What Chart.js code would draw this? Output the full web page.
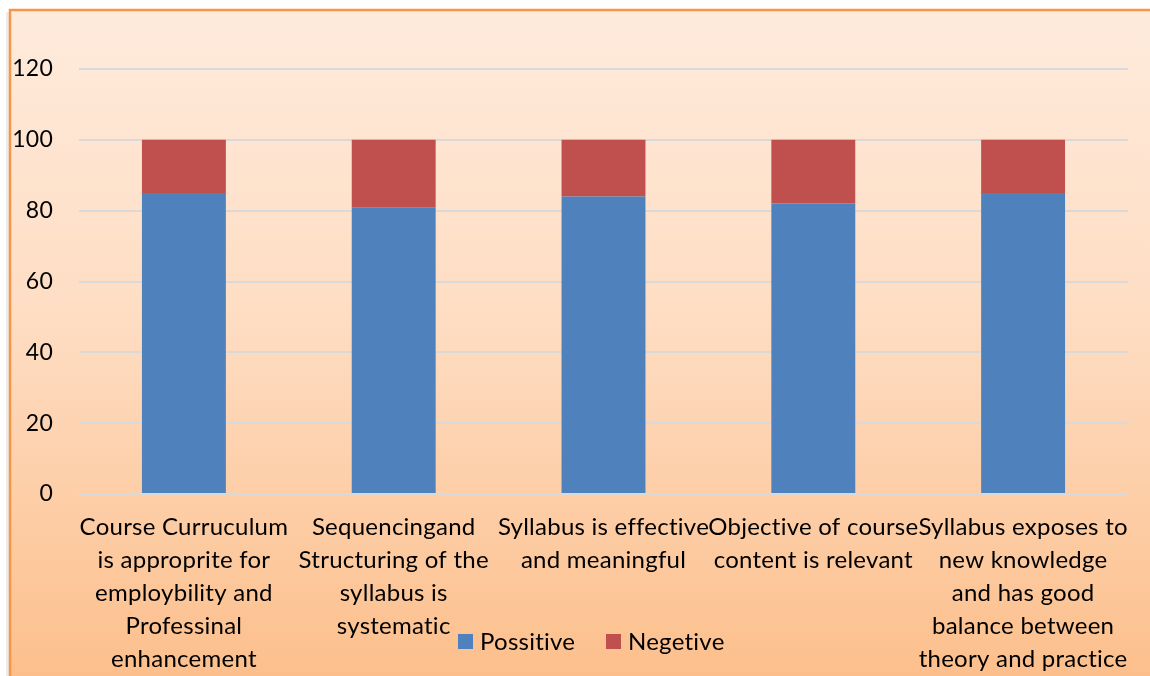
<!DOCTYPE html>
<html>
<head>
<meta charset="utf-8">
<script src="https://cdn.jsdelivr.net/npm/chart.js@4/dist/chart.umd.min.js"></script>
<style>
  html, body { margin: 0; padding: 0; background: #ffffff; }
  #wrap { position: relative; width: 1150px; height: 676px; }
</style>
</head>
<body>
<div id="wrap"><canvas id="c" width="1150" height="676"></canvas></div>
<script>
const categories = [
  ["Course Curruculum", "is approprite for", "employbility and", "Professinal", "enhancement"],
  ["Sequencingand", "Structuring of the", "syllabus is", "systematic"],
  ["Syllabus is effective", "and meaningful"],
  ["Objective of course", "content is relevant"],
  ["Syllabus exposes to", "new knowledge", "and has good", "balance between", "theory and practice"]
];
const positiveValues = [85, 81, 84, 82, 85];
const negativeValues = [15, 19, 16, 18, 15];
const seriesNames = ["Possitive", "Negetive"];
const yTicks = [0, 20, 40, 60, 80, 100, 120];

const FONT = "Lato, 'Noto Sans', sans-serif";

const bgPlugin = {
  id: 'bg',
  beforeDraw(chart) {
    const ctx = chart.ctx;
    ctx.save();
    ctx.fillStyle = 'rgba(0,0,0,0.08)';
    ctx.fillRect(6, 12, 4, 670);
    const g = ctx.createLinearGradient(0, 10, 0, 690);
    g.addColorStop(0, '#FEEBDC');
    g.addColorStop(0.45, '#FEDDC3');
    g.addColorStop(1, '#FCBE8A');
    ctx.fillStyle = g;
    ctx.fillRect(10, 10, 1150, 700);
    ctx.strokeStyle = '#F79646';
    ctx.lineWidth = 2.5;
    ctx.beginPath();
    ctx.moveTo(10, 700);
    ctx.lineTo(10, 10);
    ctx.lineTo(1160, 10);
    ctx.stroke();
    ctx.restore();
    if ('letterSpacing' in ctx) ctx.letterSpacing = '0.25px';
  }
};

const legendPlugin = {
  id: 'customLegend',
  afterDraw(chart) {
    const ctx = chart.ctx;
    ctx.save();
    ctx.font = '24px ' + FONT;
    ctx.textBaseline = 'middle';
    ctx.textAlign = 'left';
    const cy = 642;
    const starts = [458, 606];
    chart.data.datasets.forEach((ds, i) => {
      const x = starts[i];
      ctx.fillStyle = ds.backgroundColor;
      ctx.fillRect(x, cy - 8, 15, 15);
      ctx.fillStyle = '#000000';
      ctx.fillText(ds.label, x + 22, cy);
    });
    ctx.restore();
  }
};

new Chart(document.getElementById('c'), {
  type: 'bar',
  data: {
    labels: categories,
    datasets: [
      { label: seriesNames[0], data: positiveValues, backgroundColor: '#4F81BD' },
      { label: seriesNames[1], data: negativeValues, backgroundColor: '#C0504D' }
    ]
  },
  options: {
    responsive: false,
    animation: false,
    devicePixelRatio: 1,
    layout: { padding: { left: 0, right: 22, top: 69, bottom: 0 } },
    datasets: { bar: { categoryPercentage: 0.4, barPercentage: 1.0 } },
    plugins: {
      legend: { display: false },
      tooltip: { enabled: false }
    },
    scales: {
      x: {
        stacked: true,
        grid: { display: false, drawTicks: false },
        border: { display: false },
        ticks: {
          autoSkip: false, maxRotation: 0, minRotation: 0,
          color: '#000000', padding: 17,
          font: { family: FONT, size: 24, lineHeight: 1.375 }
        },
        afterFit(scale) { scale.height = 182; }
      },
      y: {
        stacked: true,
        min: 0, max: 120,
        afterBuildTicks(scale) { scale.ticks = yTicks.map(v => ({ value: v })); },
        grid: { color: '#D9D9D9', lineWidth: 2, drawTicks: false },
        border: { display: false },
        ticks: {
          color: '#000000', padding: 26,
          font: { family: FONT, size: 23 }
        },
        afterFit(scale) { scale.width = 79; }
      }
    }
  },
  plugins: [bgPlugin, legendPlugin]
});
</script>
</body>
</html>
